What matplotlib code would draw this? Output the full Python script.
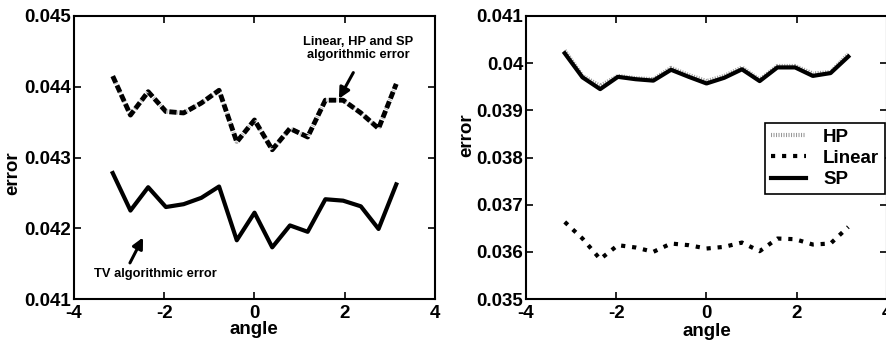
import numpy as np
import matplotlib
matplotlib.use("Agg")
import matplotlib.pyplot as plt

angle = np.array([-3.1416, -2.7489, -2.3562, -1.9635, -1.5708, -1.1781, -0.7854, -0.3927,
                  0.0, 0.3927, 0.7854, 1.1781, 1.5708, 1.9635, 2.3562, 2.7489, 3.1416])

# left panel: algorithmic error
err_tv = [0.04278, 0.04225, 0.04258, 0.04230, 0.04234, 0.04243, 0.04259, 0.04183, 0.04222,
          0.04173, 0.04204, 0.04195, 0.04241, 0.04239, 0.04231, 0.04199, 0.04262]
err_lin_hp_sp = [0.04415, 0.04360, 0.04393, 0.04365, 0.04363, 0.04377, 0.04395, 0.04322, 0.04353,
                 0.04311, 0.04341, 0.04329, 0.04381, 0.04381, 0.04363, 0.04341, 0.04404]

# right panel
err_hp = [0.04027, 0.03973, 0.03952, 0.03973, 0.03968, 0.03966, 0.03990, 0.03975, 0.03962,
          0.03973, 0.03991, 0.03965, 0.03994, 0.03994, 0.03978, 0.03981, 0.04019]
err_linear = [0.036634, 0.036282, 0.035845, 0.036141, 0.036092, 0.036000, 0.036176, 0.036141, 0.036070,
              0.036106, 0.036197, 0.036014, 0.036282, 0.036268, 0.036155, 0.036176, 0.036528]
err_sp = [0.04021, 0.03970, 0.03945, 0.03971, 0.03966, 0.03963, 0.03986, 0.03971, 0.03957,
          0.03969, 0.03987, 0.03962, 0.03991, 0.03991, 0.03973, 0.03979, 0.04014]

plt.rcParams['font.family'] = ['Liberation Sans', 'DejaVu Sans']
plt.rcParams['font.weight'] = 'bold'
plt.rcParams['font.size'] = 13.5
plt.rcParams['axes.linewidth'] = 1.5

fig = plt.figure(figsize=(8.87, 3.45), dpi=100)
W, H = 887.0, 345.0
ax1 = fig.add_axes([74 / W, 1 - 299 / H, 361 / W, 283 / H])
ax2 = fig.add_axes([526 / W, 1 - 299 / H, 361 / W, 283 / H])

for ax in (ax1, ax2):
    ax.tick_params(direction='in', top=True, right=True, length=5, width=1.2)
    ax.tick_params(axis='y', pad=2)
    ax.tick_params(axis='x', pad=4)
    ax.set_xlim(-4, 4)
    ax.set_xticks([-4, -2, 0, 2, 4])
    ax.set_xticklabels(['-4', '-2', '0', '2', '4'])

arrow = dict(arrowstyle='-|>', color='k', lw=2.2, mutation_scale=16, shrinkA=0, shrinkB=0)

# left
ax1.plot(angle, err_tv, color='k', lw=3)
ax1.plot(angle, err_lin_hp_sp, color='0.7', lw=3, dashes=(0.25, 0.35))
ax1.plot(angle, err_lin_hp_sp, color='k', lw=3.5, dashes=(1.5, 0.6))
ax1.set_ylim(0.041, 0.045)
ax1.set_yticks([0.041, 0.042, 0.043, 0.044, 0.045])
ax1.set_yticklabels(['0.041', '0.042', '0.043', '0.044', '0.045'])

ax1.text(2.3, 0.04454, 'Linear, HP and SP\nalgorithmic error', ha='center', va='center',
         fontsize=9.3, linespacing=1.15)
ax1.annotate('', xy=(1.87, 0.04383), xytext=(2.19, 0.04420), arrowprops=arrow)
ax1.text(-2.2, 0.04135, 'TV algorithmic error', ha='center', va='center', fontsize=9.3)
ax1.annotate('', xy=(-2.47, 0.04187), xytext=(-2.76, 0.04151), arrowprops=arrow)

# right
ax2.plot(angle, err_hp, color='0.6', lw=3, dashes=(0.25, 0.35), label='HP')
ax2.plot(angle, err_linear, color='k', lw=3, ls=':', label='Linear')
ax2.plot(angle, err_sp, color='k', lw=3, label='SP')
ax2.set_ylim(0.035, 0.041)
ax2.set_yticks([0.035, 0.036, 0.037, 0.038, 0.039, 0.040, 0.041])
ax2.set_yticklabels(['0.035', '0.036', '0.037', '0.038', '0.039', '0.04', '0.041'])

leg = ax2.legend(loc='upper right', bbox_to_anchor=(885 / W, 1 - 123 / H),
                 bbox_transform=fig.transFigure, fancybox=False, edgecolor='k',
                 framealpha=1, fontsize=13.5, handlelength=1.9, borderpad=0.3,
                 labelspacing=0.22, handletextpad=0.9, borderaxespad=0)
leg.get_frame().set_linewidth(1.2)

fig.text(13 / W, 1 - 173 / H, 'error', rotation=90, ha='center', va='center')
fig.text(467 / W, 1 - 135 / H, 'error', rotation=90, ha='center', va='center')
fig.text(254 / W, 1 - 330 / H, 'angle', ha='center', va='center')
fig.text(707 / W, 1 - 331 / H, 'angle', ha='center', va='center')

fig.savefig('out.png', dpi=100)
